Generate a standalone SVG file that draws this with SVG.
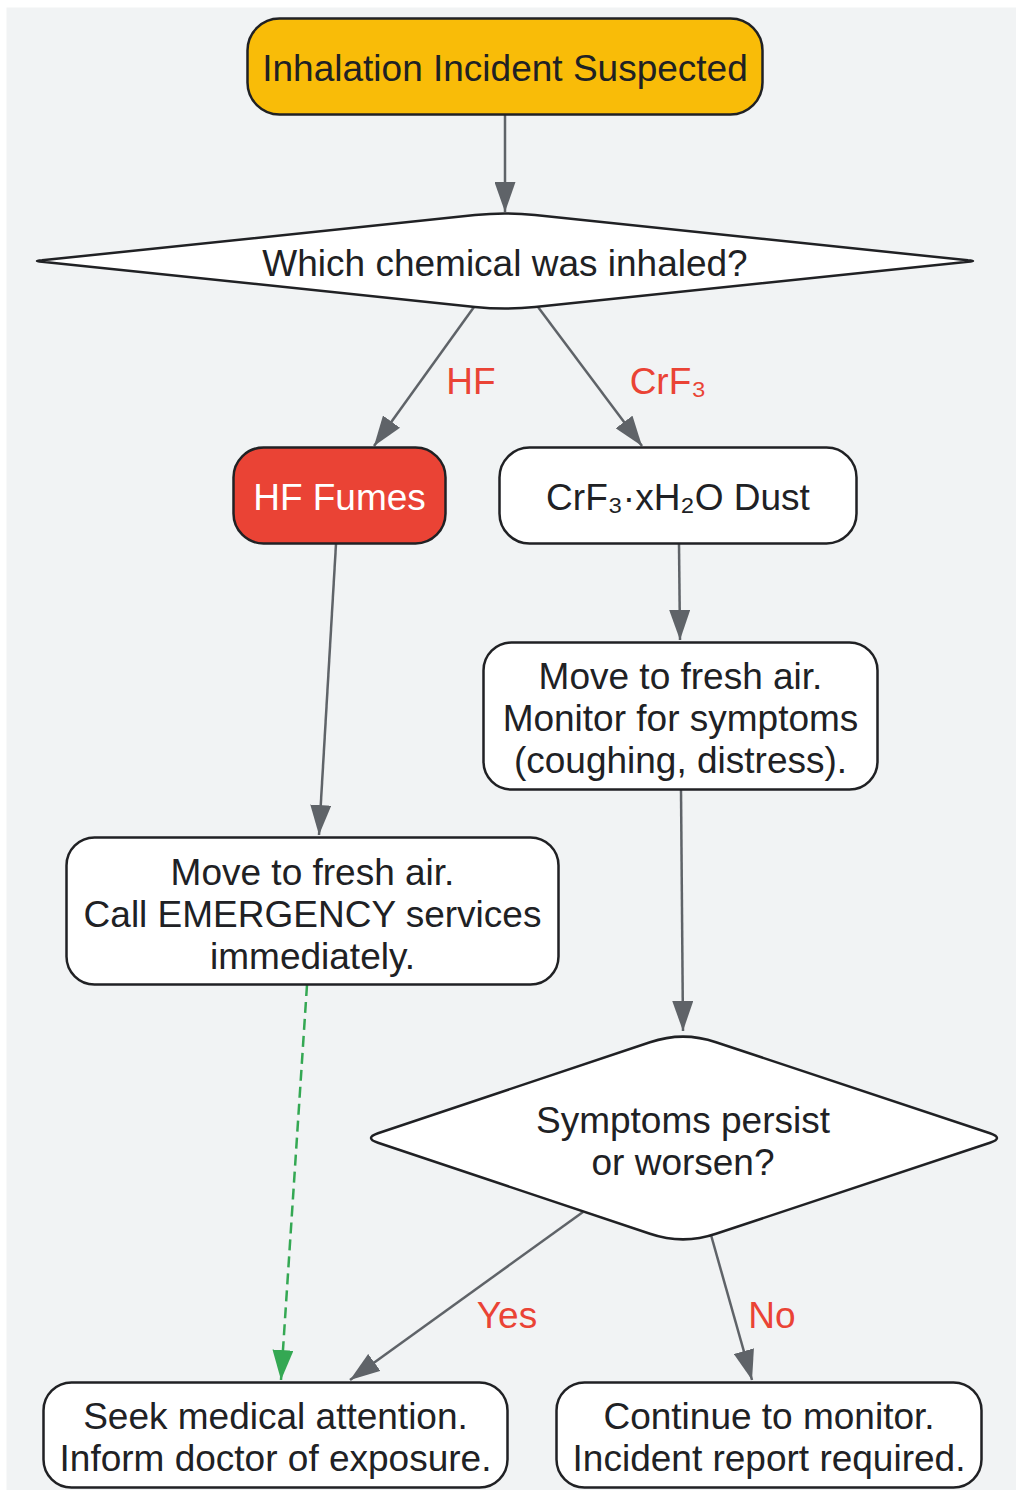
<svg xmlns="http://www.w3.org/2000/svg" width="1016" height="1490" viewBox="0 0 1016 1490">
<defs>
<style>
.node{fill:#ffffff;stroke:#202124;stroke-width:2.5;}
.t{font-family:"Liberation Sans",Arial,sans-serif;font-size:37px;fill:#202124;text-anchor:middle;}
.lbl{font-family:"Liberation Sans",Arial,sans-serif;font-size:37px;fill:#ea4335;text-anchor:middle;}
.edge{fill:none;stroke:#5f6368;stroke-width:2.5;}
.dash{fill:none;stroke:#34a853;stroke-width:2.5;stroke-dasharray:11,6;}
</style>
<marker id="ah" viewBox="0 0 30 21" refX="30" refY="10.5" markerWidth="30" markerHeight="21" markerUnits="userSpaceOnUse" orient="auto">
<path d="M0,0 L30,10.5 L0,21 z" fill="#5f6368"/>
</marker>
<marker id="ahg" viewBox="0 0 30 21" refX="30" refY="10.5" markerWidth="30" markerHeight="21" markerUnits="userSpaceOnUse" orient="auto">
<path d="M0,0 L30,10.5 L0,21 z" fill="#34a853"/>
</marker>
</defs>
<rect x="0" y="0" width="1016" height="1490" fill="#ffffff"/>
<rect x="6.5" y="7.5" width="1010" height="1483" fill="#f1f3f4"/>

<g id="connectors">
<path class="edge" d="M505,115 L505,212" marker-end="url(#ah)"/>
<path class="edge" d="M474,307 L374,446" marker-end="url(#ah)"/>
<path class="edge" d="M538,307 L642,446" marker-end="url(#ah)"/>
<path class="edge" d="M679,544 L680,640" marker-end="url(#ah)"/>
<path class="edge" d="M336,544 L319,835" marker-end="url(#ah)"/>
<path class="edge" d="M681,790 L683,1031" marker-end="url(#ah)"/>
<path class="dash" d="M307,985 L281,1380" marker-end="url(#ahg)"/>
<path class="edge" d="M583,1212 L350,1380" marker-end="url(#ah)"/>
<path class="edge" d="M711,1235 L752,1380" marker-end="url(#ah)"/>
<text class="lbl" x="471" y="394">HF</text>
<text class="lbl" x="668" y="394">CrF₃</text>
<text class="lbl" x="507" y="1328">Yes</text>
<text class="lbl" x="772" y="1328">No</text>
</g>

<g id="start">
<rect x="247.5" y="18.5" width="515" height="96" rx="32" ry="32" fill="#f9bc08" stroke="#202124" stroke-width="2.5"/>
<text class="t" x="505" y="81">Inhalation Incident Suspected</text>
</g>

<g id="which">
<path class="node" d="M42,260.3 L475,215.1 Q505,212 535,215.1 L968,260.3 Q978,261 968,261.7 L535,306.9 Q505,310 475,306.9 L42,261.7 Q32,261 42,260.3 Z"/>
<text class="t" x="505" y="276">Which chemical was inhaled?</text>
</g>

<g id="hf">
<rect x="233.5" y="447.5" width="212" height="96" rx="30" ry="30" fill="#ea4335" stroke="#202124" stroke-width="2.5"/>
<text class="t" x="339.5" y="510" style="fill:#ffffff">HF Fumes</text>
</g>

<g id="crf">
<rect class="node" x="499.5" y="447.5" width="357" height="96" rx="30" ry="30"/>
<text class="t" x="678" y="510">CrF₃·xH₂O Dust</text>
</g>

<g id="monitor">
<rect class="node" x="483.5" y="642.5" width="394" height="147" rx="28" ry="28"/>
<text class="t" x="680.5" y="689">Move to fresh air.</text>
<text class="t" x="680.5" y="731">Monitor for symptoms</text>
<text class="t" x="680.5" y="773">(coughing, distress).</text>
</g>

<g id="call">
<rect class="node" x="66.5" y="837.5" width="492" height="147" rx="28" ry="28"/>
<text class="t" x="312.5" y="885">Move to fresh air.</text>
<text class="t" x="312.5" y="927">Call EMERGENCY services</text>
<text class="t" x="312.5" y="969">immediately.</text>
</g>

<g id="symptoms">
<path class="node" d="M378,1133.2 L650,1042.25 Q683,1031 716,1042.25 L990,1133.2 Q1004,1138 990,1142.8 L716,1233.75 Q683,1245 650,1233.75 L378,1142.8 Q364,1138 378,1133.2 Z"/>
<text class="t" x="683" y="1133">Symptoms persist</text>
<text class="t" x="683" y="1175">or worsen?</text>
</g>

<g id="seek">
<rect class="node" x="43.5" y="1382.5" width="464" height="105" rx="28" ry="28"/>
<text class="t" x="275.5" y="1429">Seek medical attention.</text>
<text class="t" x="275.5" y="1471">Inform doctor of exposure.</text>
</g>

<g id="continue">
<rect class="node" x="556.5" y="1382.5" width="425" height="105" rx="28" ry="28"/>
<text class="t" x="769" y="1429">Continue to monitor.</text>
<text class="t" x="769" y="1471">Incident report required.</text>
</g>
</svg>
